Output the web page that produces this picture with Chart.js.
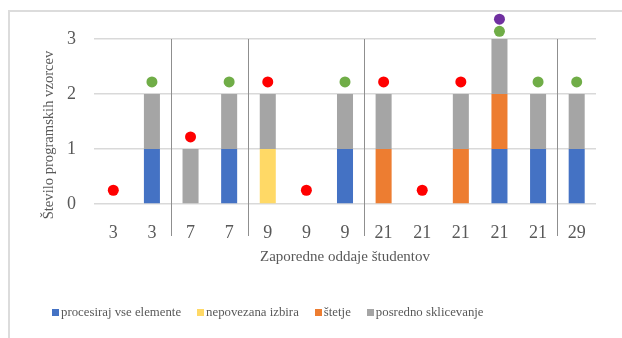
<!DOCTYPE html>
<html>
<head>
<meta charset="utf-8">
<script src="https://cdn.jsdelivr.net/npm/chart.js@4.4.1/dist/chart.umd.min.js"></script>
<style>
  html, body { margin: 0; padding: 0; background: #fff; }
  #wrap { position: relative; width: 622px; height: 338px; overflow: hidden; }
  #frame { position: absolute; left: 8px; top: 10px; width: 700px; height: 400px;
           border-left: 2px solid #dcdcdc; border-top: 2px solid #dcdcdc; box-sizing: border-box; }
  canvas { position: absolute; left: 0; top: 0; }
  #legend { position: absolute; left: 52px; top: 305px; display: flex; align-items: center;
            font-family: "Liberation Serif", "Times New Roman", serif; font-size: 12.8px; color: #595959; white-space: nowrap; }
  #legend .item { display: flex; align-items: center; margin-right: 16px; }
  #legend .sw { width: 7px; height: 7px; margin-right: 2px; }
</style>
</head>
<body>
<div id="wrap">
  <div id="frame"></div>
  <canvas id="c" width="622" height="338"></canvas>
  <div id="legend"></div>
</div>
<script>
// Submissions (x categories) and pattern counts per submission
const categories = ['3', '3', '7', '7', '9', '9', '9', '21', '21', '21', '21', '21', '29'];
const seriesNames = ['procesiraj vse elemente', 'nepovezana izbira', 'štetje', 'posredno sklicevanje'];
const procesiraj = [0, 1, 0, 1, 0, 0, 1, 0, 0, 0, 1, 1, 1];
const nepovezana = [0, 0, 0, 0, 1, 0, 0, 0, 0, 0, 0, 0, 0];
const stetje     = [0, 0, 0, 0, 0, 0, 0, 1, 0, 1, 1, 0, 0];
const posredno   = [0, 1, 1, 1, 1, 0, 1, 1, 0, 1, 1, 1, 1];
// Status markers above the bars
const redDots    = [0.25, null, 1.22, null, 2.22, 0.25, null, 2.22, 0.25, 2.22, null, null, null];
const greenDots  = [null, 2.22, null, 2.22, null, null, 2.22, null, null, null, 3.14, 2.22, 2.22];
const purpleDots = [null, null, null, null, null, null, null, null, null, null, 3.36, null, null];
const yTicks = [0, 1, 2, 3];
// Indexes after which a vertical separator is drawn
const groupEnds = [1, 3, 6, 11];

const colors = ['#4472C4', '#FFD966', '#ED7D31', '#A5A5A5'];
const serif = '"Liberation Serif", "Times New Roman", serif';

const barSets = [procesiraj, nepovezana, stetje, posredno].map((d, i) => ({
  type: 'bar', label: seriesNames[i], data: d, backgroundColor: colors[i],
  stack: 'bars', barPercentage: 0.415, categoryPercentage: 1, order: 2
}));
const dotSet = (label, d, c) => ({
  type: 'line', label, data: d, showLine: false, stack: label, clip: false,
  pointRadius: 5.5, pointHoverRadius: 5.5, pointBackgroundColor: c, pointBorderWidth: 0,
  borderColor: c, order: 1
});

const decor = {
  id: 'decor',
  afterDraw(chart) {
    const ctx = chart.ctx, x = chart.scales.x, y = chart.scales.y, a = chart.chartArea;
    const top = y.getPixelForValue(yTicks[yTicks.length - 1]);
    ctx.save();
    ctx.strokeStyle = '#8f8f8f';
    ctx.lineWidth = 1;
    groupEnds.forEach(i => {
      const px = Math.round((x.getPixelForValue(i) + x.getPixelForValue(i + 1)) / 2) + 0.5;
      ctx.beginPath(); ctx.moveTo(px, top); ctx.lineTo(px, 236); ctx.stroke();
    });
    ctx.fillStyle = '#595959';
    ctx.textAlign = 'center'; ctx.textBaseline = 'middle';
    ctx.font = '15px ' + serif;
    ctx.fillText('Zaporedne oddaje študentov', (a.left + a.right) / 2, 257);
    ctx.font = '14.6px ' + serif;
    ctx.translate(49, 135);
    ctx.rotate(-Math.PI / 2);
    ctx.fillText('Število programskih vzorcev', 0, 0);
    ctx.restore();
  }
};

new Chart(document.getElementById('c'), {
  data: {
    labels: categories,
    datasets: [...barSets,
      dotSet('r', redDots, '#FF0000'),
      dotSet('g', greenDots, '#70AD47'),
      dotSet('p', purpleDots, '#7030A0')]
  },
  options: {
    responsive: false, animation: false, devicePixelRatio: 1,
    layout: { padding: { left: 0, right: 26, top: 11.5, bottom: 0 } },
    plugins: { legend: { display: false }, tooltip: { enabled: false } },
    scales: {
      x: {
        stacked: true, offset: true,
        grid: { display: false }, border: { display: false },
        ticks: { color: '#595959', font: { family: serif, size: 18 }, padding: 10, maxRotation: 0, autoSkip: false },
        afterFit(s) { s.height = 134; s.paddingLeft = 0; s.paddingRight = 0; }
      },
      y: {
        stacked: true, min: 0, max: 3.5,
        afterBuildTicks(s) { s.ticks = yTicks.map(v => ({ value: v })); },
        grid: { color: '#d9d9d9', lineWidth: 1.5, drawTicks: false }, border: { display: false },
        ticks: { color: '#595959', font: { family: serif, size: 18 }, padding: 18 },
        afterFit(s) { s.width = 94; s.paddingTop = 0; s.paddingBottom = 0; }
      }
    }
  },
  plugins: [decor]
});

// Legend for the four pattern series
const lg = document.getElementById('legend');
seriesNames.forEach((n, i) => {
  const it = document.createElement('div'); it.className = 'item';
  const sw = document.createElement('div'); sw.className = 'sw'; sw.style.background = colors[i];
  const tx = document.createElement('span'); tx.textContent = n;
  it.appendChild(sw); it.appendChild(tx); lg.appendChild(it);
});
</script>
</body>
</html>
